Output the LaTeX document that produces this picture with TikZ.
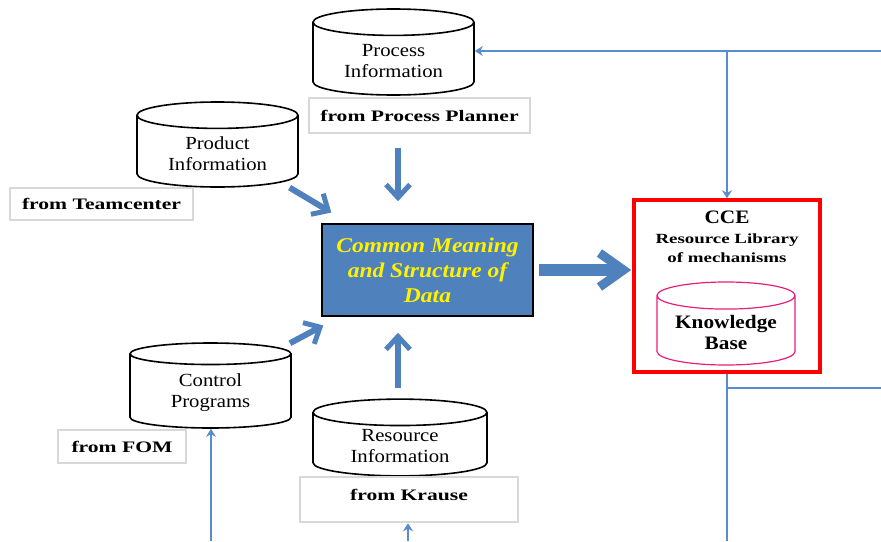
\documentclass[tikz,border=0pt]{standalone}
\usepackage{fontspec}
\setmainfont[FakeStretch=1.12]{Liberation Serif}
\newfontfamily\widefont[FakeStretch=1.35]{Liberation Serif}
\usetikzlibrary{shapes.geometric, arrows.meta}

\definecolor{dataBlue}{RGB}{79,129,189}
\definecolor{lineBlue}{RGB}{88,140,205}
\definecolor{labelGray}{RGB}{216,216,216}
\definecolor{kbPink}{RGB}{232,30,120}

\begin{document}
\begin{tikzpicture}[x=1pt, y=-1pt,
    db/.style={cylinder, shape border rotate=90, draw, line width=1.6pt, aspect=0.25,
      anchor=shape center, align=center, font=\fontsize{18.5}{21}\selectfont},
    src/.style={draw=labelGray, line width=2.5pt, fill=white,
      font=\widefont\bfseries\fontsize{16}{19}\selectfont},
    fat/.style={dataBlue, line width=6pt, -{Straight Barb[length=13pt,width=24pt,line width=5pt]}},
    feed/.style={lineBlue, line width=2.4pt, -{Stealth[length=8pt,width=10pt]}},
    wire/.style={lineBlue, line width=2.4pt}]
    \useasboundingbox (0,0) rectangle (881,541);

    % data stores
    \node[db, minimum width=161pt, minimum height=86pt] (procDB) at (393.5,52) {Process\\Information};
    \node[db, minimum width=161pt, minimum height=85pt] (prodDB) at (217.5,144.5) {Product\\Information};
    \node[db, minimum width=161pt, minimum height=85pt] (ctrlDB) at (210.5,385.5) {Control\\Programs};
    \node[db, minimum width=174pt, minimum height=69pt] (resDB) at (400,437.5) {Resource\\Information};

    % where they come from
    \node[src, minimum width=221pt, minimum height=35pt] (planner) at (419.5,115.5) {from Process Planner};
    \node[src, minimum width=183pt, minimum height=32pt] (teamc) at (101.5,204) {from Teamcenter};
    \node[src, minimum width=128pt, minimum height=33pt] (fom) at (122,446.5) {from FOM};
    \node[src, minimum width=218pt, minimum height=45pt, text depth=9pt] (krause) at (409,499.5) {from Krause};

    % common data model
    \node[draw, line width=1.5pt, fill=dataBlue, minimum width=211pt, minimum height=92pt,
        align=center, text=yellow, font=\bfseries\itshape\fontsize{21}{25}\selectfont]
        (data) at (427.5,270) {Common Meaning\\and Structure of\\Data};

    % CCE
    \node[draw=red, line width=3.5pt, minimum width=186pt, minimum height=172pt] (cce) at (727,286) {};
    \node[font=\bfseries\fontsize{19}{22}\selectfont] (cceName) at (727,217) {CCE};
    \node[font=\widefont\bfseries\fontsize{14}{19}\selectfont, align=center] (cceLib) at (727,248.5)
        {Resource Library\\of mechanisms};
    \node[db, draw=kbPink, line width=1.2pt, minimum width=138pt, minimum height=83pt,
        font=\bfseries\fontsize{19}{21}\selectfont] (kbDB) at (726,323.5) {Knowledge\\Base};

    \coordinate (topEnd) at (881,51);
    \coordinate (cceTap) at (727,51);
    \coordinate (rightOut) at (881,388);
    \coordinate (cceFoot) at (727,541);
    \coordinate (fomIn) at (211,541);
    \coordinate (krauseIn) at (408,541);

    % thin lines
    \draw[feed] (topEnd) -- (procDB.east |- topEnd);
    \draw[feed] (cceTap) -- (cce.north);
    \draw[wire] (cce.south) -- (cceFoot);
    \draw[wire] (cce.south |- rightOut) -- (rightOut);
    \draw[feed] (fomIn) -- (fomIn |- ctrlDB.south);
    \draw[feed] (krauseIn) -- (krauseIn |- krause.south);

    % thick arrows into the data model
    \draw[fat, shorten <=84, shorten >=112] (prodDB.shape center) -- (data.center);
    \draw[fat, shorten <=90, shorten >=118] (ctrlDB.shape center) -- (data.center);
    \draw[fat, shorten <=14, shorten >=22] ([xshift=-21.5pt]planner.south) -- ([xshift=-21.5pt]planner.south |- data.north);
    \draw[fat, shorten <=50, shorten >=16] ([xshift=-2pt]resDB.shape center) -- ([xshift=-2pt]resDB.shape center |- data.south);
    \draw[fat, line width=12pt, -{Straight Barb[length=24pt,width=34pt,line width=9pt]}, shorten <=5, shorten >=1]
        (data.east) -- (data.east -| cce.west);
\end{tikzpicture}
\end{document}
